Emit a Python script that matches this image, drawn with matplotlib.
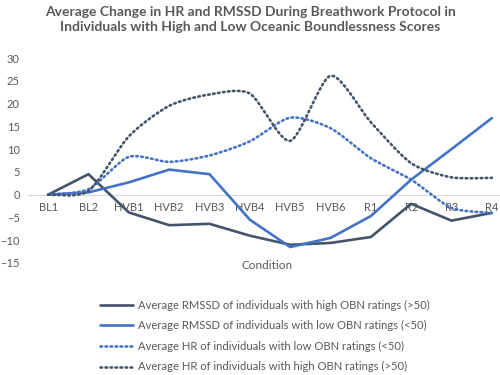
import numpy as np
import matplotlib
matplotlib.use("Agg")
import matplotlib.pyplot as plt

plt.rcParams['font.family'] = ['Lato', 'DejaVu Sans']

conditions = ['BL1', 'BL2', 'HVB1', 'HVB2', 'HVB3', 'HVB4', 'HVB5', 'HVB6', 'R1', 'R2', 'R3', 'R4']
rmssd_high = [0, 4.5, -3.9, -6.7, -6.4, -9.0, -11.0, -10.6, -9.3, -2.0, -5.7, -4.0]
rmssd_low = [0, 0.5, 2.7, 5.5, 4.5, -5.5, -11.5, -9.5, -4.7, 3.3, 10.0, 16.8]
hr_low = [0, 1.2, 8.3, 7.2, 8.6, 11.7, 16.9, 14.6, 8.0, 3.3, -2.9, -4.0]
hr_high = [0, 0.8, 12.8, 19.5, 22.0, 22.2, 11.8, 26.1, 15.9, 6.9, 3.8, 3.7]

dark = '#44546A'
blue = '#4472C4'
grey_text = '#595959'


def smooth(x, y, n=20, k=8.0):
    # Catmull-Rom style curve, like Excel's smoothed line
    x = np.asarray(x, float)
    y = np.asarray(y, float)
    px = np.concatenate([[x[0]], x, [x[-1]]])
    py = np.concatenate([[y[0]], y, [y[-1]]])
    xs, ys = [], []
    t = np.linspace(0, 1, n)
    for i in range(1, len(px) - 2):
        p0, p1, p2, p3 = py[i-1], py[i], py[i+1], py[i+2]
        q0, q1, q2, q3 = px[i-1], px[i], px[i+1], px[i+2]
        for arr, (a0, a1, a2, a3) in ((ys, (p0, p1, p2, p3)), (xs, (q0, q1, q2, q3))):
            c1 = a1 + (a2 - a0) / k
            c2 = a2 - (a3 - a1) / k
            arr.extend((1-t)**3*a1 + 3*(1-t)**2*t*c1 + 3*(1-t)*t**2*c2 + t**3*a2)
    return np.array(xs), np.array(ys)


fig = plt.figure(figsize=(5, 3.75), dpi=100)
ax = fig.add_axes([0.056, 0.2987, 0.968, 0.5466])
x = np.arange(len(conditions))

dots = (0, (0.6, 1.3))
l1, = ax.plot(x, rmssd_high, color=dark, lw=1.9, solid_capstyle='round',
              label='Average RMSSD of individuals with high OBN ratings (>50)')
l2, = ax.plot(x, rmssd_low, color=blue, lw=1.9, solid_capstyle='round',
              label='Average RMSSD of individuals with low OBN ratings (<50)')
sx, sy = smooth(x, hr_low)
l3, = ax.plot(sx, sy, color=blue, lw=1.9, linestyle=dots, dash_capstyle='round',
              label='Average HR of individuals with low OBN ratings (<50)')
sx, sy = smooth(x, hr_high)
l4, = ax.plot(sx, sy, color=dark, lw=1.9, linestyle=dots, dash_capstyle='round',
              label='Average HR of individuals with high OBN ratings (>50)')

ax.set_xlim(-0.5, len(conditions) - 0.5)
ax.set_ylim(-15, 30)
ax.set_yticks(range(-15, 31, 5))
ax.set_xticks(x)
ax.set_xticklabels(conditions)
for s in ['top', 'right', 'left']:
    ax.spines[s].set_visible(False)
ax.spines['bottom'].set_position(('data', 0))
ax.spines['bottom'].set_color('#D9D9D9')
ax.spines['bottom'].set_zorder(0)
ax.tick_params(axis='both', length=0, labelsize=8, labelcolor=grey_text)
ax.tick_params(axis='x', pad=5)
ax.tick_params(axis='y', pad=6)

fig.text(0.5, 0.985, 'Average Change in HR and RMSSD During Breathwork Protocol in\n'
         'Individuals with High and Low Oceanic Boundlessness Scores',
         ha='center', va='top', fontsize=10, fontweight='bold', color=grey_text,
         linespacing=1.3)
fig.text(0.535, 0.293, 'Condition', ha='center', va='center', fontsize=8.5, color=grey_text)

leg = fig.legend(handles=[l1, l2, l3, l4], loc='upper left', bbox_to_anchor=(0.19, 0.213),
                 frameon=False, fontsize=8.1, handlelength=3.0, handletextpad=0.4,
                 labelspacing=0.85, borderaxespad=0)
for t in leg.get_texts():
    t.set_color(grey_text)

fig.savefig('out.png', dpi=100)
